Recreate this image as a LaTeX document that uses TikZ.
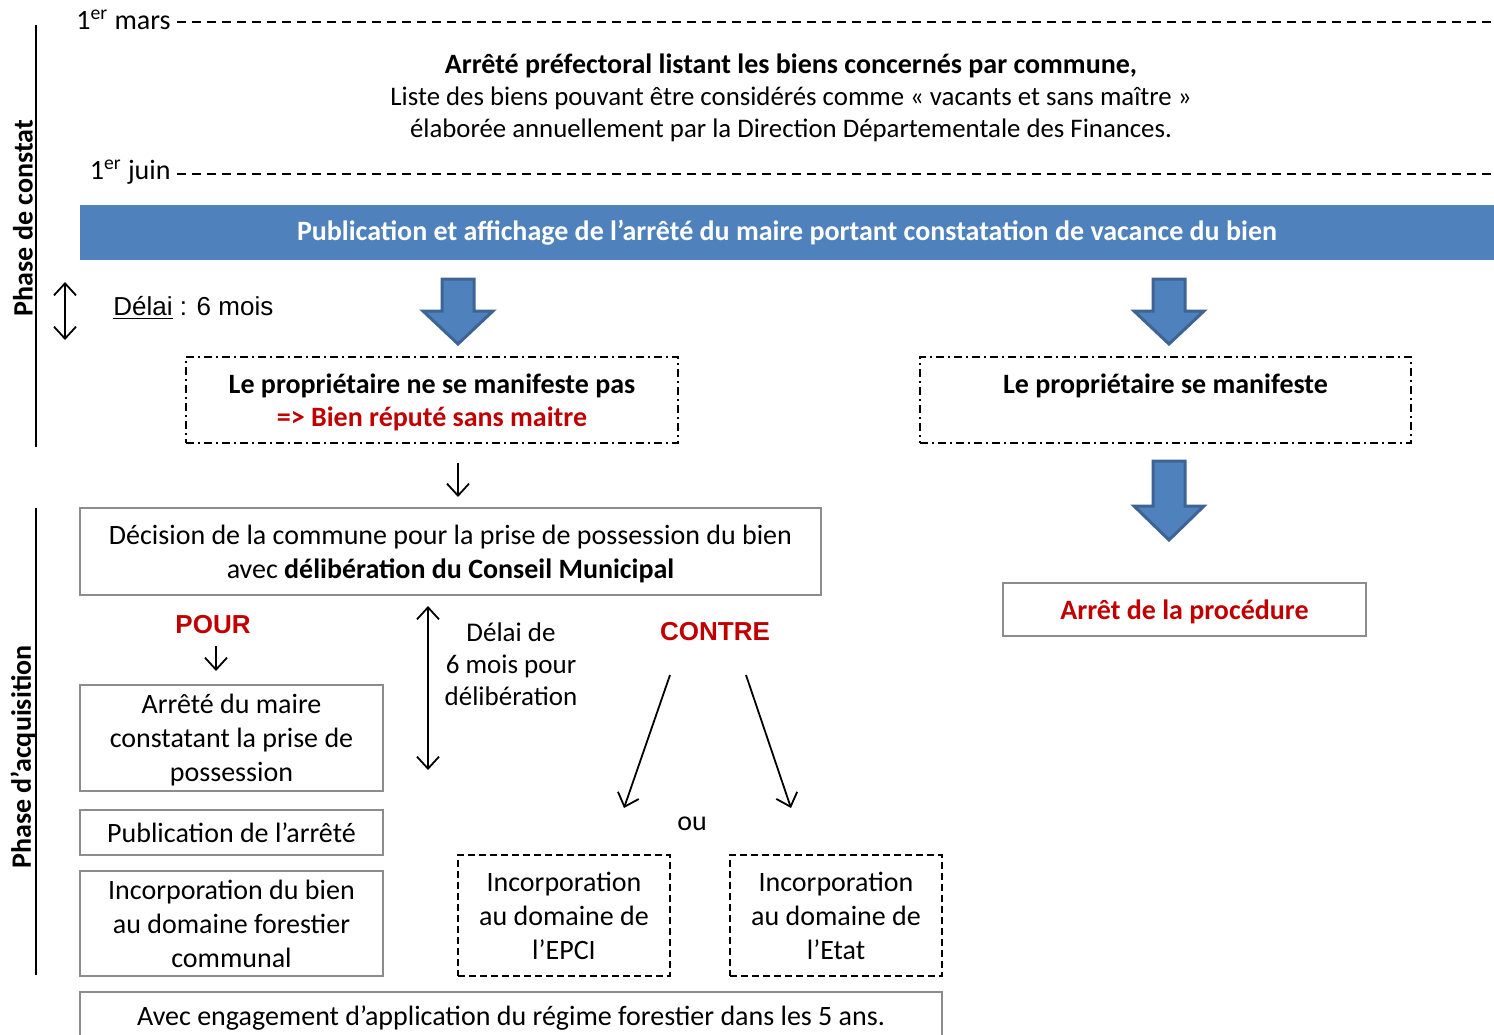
\documentclass[tikz,border=0pt]{standalone}
\usepackage{fontspec}
\setmainfont{Carlito}
\newfontfamily\arialf{Liberation Sans}
\usetikzlibrary{arrows.meta}
\definecolor{bandblue}{HTML}{4F81BD}
\definecolor{bandedge}{HTML}{3D6495}
\definecolor{redtxt}{HTML}{C00000}
\definecolor{boxgray}{HTML}{8C8C8C}
\newcommand\blockarr[4]{\filldraw[blockarrow] (#1-16,#2) -- (#1+16,#2) -- (#1+16,#3) -- (#1+35,#3) -- (#1,#4) -- (#1-35,#3) -- (#1-16,#3) -- cycle;}
\begin{document}
\begin{tikzpicture}[x=0.5pt,y=-0.5pt,
  every node/.style={font=\fontsize{14}{17}\selectfont, inner sep=0pt},
  graybox/.style={draw=boxgray, line width=1pt, align=center, text depth=0pt},
  dotbox/.style={draw=black, line width=0.9pt, dash pattern=on 4pt off 2pt on 1pt off 2pt, align=center, text depth=0pt, font=\fontsize{14}{16.5}\selectfont},
  dashbox/.style={draw=black, line width=0.9pt, dash pattern=on 3.5pt off 2pt, align=center},
  timeline/.style={line width=0.9pt, dash pattern=on 4.5pt off 3pt},
  thinarrow/.style={line width=0.9pt, -{Straight Barb[length=6pt,width=11pt]}},
  bothways/.style={line width=0.9pt, {Straight Barb[length=6pt,width=11pt]}-{Straight Barb[length=6pt,width=11pt]}},
  blockarrow/.style={fill=bandblue, draw=bandedge, line width=1.5pt, line join=miter},
  phase/.style={font=\fontsize{14}{17}\selectfont\bfseries, rotate=90},
  redlbl/.style={font=\arialf\bfseries\fontsize{13}{15}\selectfont, text=redtxt},
  phaseline/.style={line width=1pt}
]
\useasboundingbox (0,0) rectangle (1494,1034);
\clip (0,0) rectangle (1494,1034);

% timeline
\coordinate (rightedge) at (1494,0);
\node[anchor=east] (mars) at (171,20) {1\textsuperscript{er} mars};
\node[anchor=east] (juin) at (171,172) {1\textsuperscript{er} juin};
\draw[timeline] ([xshift=3pt,yshift=-1pt]mars.east) -- ([yshift=-1pt]mars.east -| rightedge);
\draw[timeline] ([xshift=3pt,yshift=-1pt]juin.east) -- ([yshift=-1pt]juin.east -| rightedge);

\node[align=center, font=\fontsize{13.4}{16}\selectfont] (prefet) at (791,98)
  {\fontsize{14}{16}\selectfont\textbf{Arrêté préfectoral listant les biens concernés par commune,}\\
   Liste des biens pouvant être considérés comme « vacants et sans maître »\\
   élaborée annuellement par la Direction Départementale des Finances.};

% banner
\node[fill=bandblue, minimum width=707pt, minimum height=27.5pt, text=white, font=\fontsize{14}{17}\selectfont\bfseries] (banner) at (787,232.5)
  {Publication et affichage de l’arrêté du maire portant constatation de vacance du bien};

% phase labels and lines
\coordinate (c1top) at (36,25);
\coordinate (c1bot) at (36,447);
\coordinate (c2top) at (36,508);
\coordinate (c2bot) at (36,975);
\draw[phaseline] (c1top) -- (c1bot);
\draw[phaseline] (c2top) -- (c2bot);
\node[phase] (phconstat) at (23,218) {Phase de constat};
\node[phase] (phacq) at (23,757) {Phase d’acquisition};

% delai 6 mois
\coordinate (d1a) at (65,282);
\coordinate (d1b) at (65,340);
\draw[bothways] (d1a) -- (d1b);
\node[anchor=west, font=\arialf\fontsize{13}{15}\selectfont] (delai) at (113,308) {\underline{Délai} : 6 mois};

% block arrows
\coordinate (leftaxis) at (458,0);
\blockarr{458}{279}{311}{344}
\blockarr{1169}{279}{311}{344}
\blockarr{1169}{461}{506}{540}

% owner boxes
\node[dotbox, minimum width=246pt, minimum height=43pt] (nomanif) at (432,400)
  {\textbf{Le propriétaire ne se manifeste pas}\\\textcolor{redtxt}{\textbf{=> Bien réputé sans maitre}}};
\node[dotbox, minimum width=245.5pt, minimum height=43pt] (manif) at (1165.5,400)
  {\textbf{Le propriétaire se manifeste}\\\strut};

% decision
\node[graybox, minimum width=370.5pt, minimum height=43.5pt] (dec) at (450.5,551.5)
  {Décision de la commune pour la prise de possession du bien\\avec \textbf{délibération du Conseil Municipal}};
\draw[thinarrow] ([yshift=-9.5pt]nomanif.south -| leftaxis) -- ([yshift=5pt]dec.north -| leftaxis);

% arret procedure
\node[graybox, minimum width=181.5pt, minimum height=26.5pt, font=\fontsize{14}{17}\selectfont\bfseries, text=redtxt] (proc) at (1184.5,609.5)
  {Arrêt de la procédure};

% POUR branch
\node[redlbl] (pour) at (213,625) {POUR};
\node[graybox, minimum width=151.5pt, minimum height=53pt] (arrete) at (231.5,738)
  {Arrêté du maire\\constatant la prise de\\possession};
\draw[thinarrow] ([xshift=1.5pt,yshift=-5.5pt]pour.south) -- ([xshift=1.5pt,yshift=6.5pt]arrete.north -| pour.south);
\node[graybox, minimum width=151.5pt, minimum height=22.5pt] (pub) at (231.5,832.5)
  {Publication de l’arrêté};
\node[graybox, minimum width=151.5pt, minimum height=52.5pt] (incomm) at (231.5,923.5)
  {Incorporation du bien\\au domaine forestier\\communal};

% delai deliberation
\coordinate (d2a) at (428,606);
\coordinate (d2b) at (428,770);
\draw[bothways] (d2a) -- (d2b);
\node[align=center, font=\fontsize{13.5}{16}\selectfont] (delib) at (511,664) {Délai de\\6 mois pour\\délibération};

% CONTRE branch
\node[redlbl] (contre) at (715,632) {CONTRE};
\coordinate (ca) at (670,675);
\coordinate (cb) at (624,808);
\coordinate (cc) at (746,675);
\coordinate (cd) at (791,808);
\draw[thinarrow] (ca) -- (cb);
\draw[thinarrow] (cc) -- (cd);
\node (ou) at (692,824) {ou};
\node[dashbox, minimum width=106pt, minimum height=60.5pt] (epci) at (564,915.5)
  {Incorporation\\au domaine de\\l’EPCI};
\node[dashbox, minimum width=106pt, minimum height=60.5pt] (etat) at (836,915.5)
  {Incorporation\\au domaine de\\l’Etat};

% bottom
\node[graybox, minimum width=431pt, minimum height=24pt] (engage) at (511,1016)
  {Avec engagement d’application du régime forestier dans les 5 ans.};
\end{tikzpicture}
\end{document}
